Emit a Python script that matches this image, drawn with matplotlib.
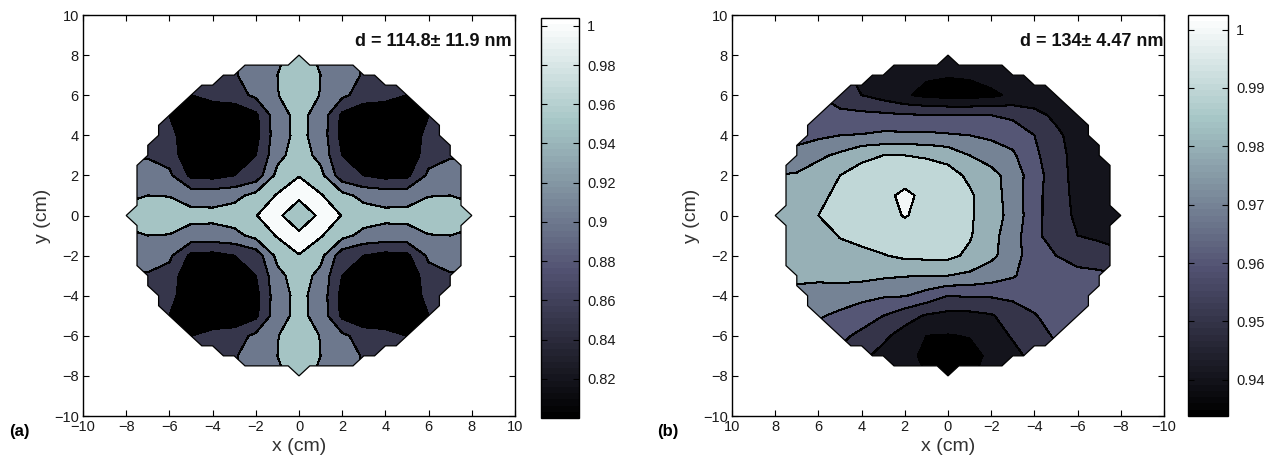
import numpy as np
import matplotlib
matplotlib.use('Agg')
import matplotlib.pyplot as plt
from matplotlib.colors import Normalize
from matplotlib.cm import ScalarMappable
from matplotlib.patches import PathPatch

plt.rcParams['font.family'] = ['Liberation Sans', 'DejaVu Sans']

N = np.nan

# ---------------- panel (a) data : 1 cm grid, x = -8..8, y = 8..-8 ----------------
a_x = list(range(-8, 9))
a_y = list(range(8, -9, -1))
a_values = [
    [N, N, N, N, N, 0.895, 0.925, 0.945, 0.960, 0.945, 0.925, 0.895, N, N, N, N, N],
    [N, N, N, 0.870, 0.885, 0.895, 0.925, 0.950, 0.975, 0.950, 0.925, 0.895, 0.885, 0.870, N, N, N],
    [N, N, 0.845, 0.850, 0.870, 0.880, 0.910, 0.948, 0.980, 0.948, 0.910, 0.880, 0.870, 0.850, 0.845, N, N],
    [N, 0.870, 0.850, 0.815, 0.810, 0.810, 0.840, 0.930, 0.965, 0.930, 0.840, 0.810, 0.810, 0.815, 0.850, 0.870, N],
    [N, 0.885, 0.870, 0.810, 0.800, 0.805, 0.835, 0.930, 0.963, 0.930, 0.835, 0.805, 0.800, 0.810, 0.870, 0.885, N],
    [0.895, 0.895, 0.880, 0.810, 0.805, 0.815, 0.850, 0.935, 0.975, 0.935, 0.850, 0.815, 0.805, 0.810, 0.880, 0.895, 0.895],
    [0.925, 0.925, 0.910, 0.840, 0.835, 0.850, 0.870, 0.965, 0.9998, 0.965, 0.870, 0.850, 0.835, 0.840, 0.910, 0.925, 0.925],
    [0.945, 0.950, 0.948, 0.930, 0.930, 0.935, 0.965, 1.004, 1.003, 1.004, 0.965, 0.935, 0.930, 0.930, 0.948, 0.950, 0.945],
    [0.960, 0.975, 0.980, 0.965, 0.963, 0.975, 0.9998, 1.003, 0.990, 1.003, 0.9998, 0.975, 0.963, 0.965, 0.980, 0.975, 0.960],
    [0.945, 0.950, 0.948, 0.930, 0.930, 0.935, 0.965, 1.004, 1.003, 1.004, 0.965, 0.935, 0.930, 0.930, 0.948, 0.950, 0.945],
    [0.925, 0.925, 0.910, 0.840, 0.835, 0.850, 0.870, 0.965, 0.9998, 0.965, 0.870, 0.850, 0.835, 0.840, 0.910, 0.925, 0.925],
    [0.895, 0.895, 0.880, 0.810, 0.805, 0.815, 0.850, 0.935, 0.975, 0.935, 0.850, 0.815, 0.805, 0.810, 0.880, 0.895, 0.895],
    [N, 0.885, 0.870, 0.810, 0.800, 0.805, 0.835, 0.930, 0.963, 0.930, 0.835, 0.805, 0.800, 0.810, 0.870, 0.885, N],
    [N, 0.870, 0.850, 0.815, 0.810, 0.810, 0.840, 0.930, 0.965, 0.930, 0.840, 0.810, 0.810, 0.815, 0.850, 0.870, N],
    [N, N, 0.845, 0.850, 0.870, 0.880, 0.910, 0.948, 0.980, 0.948, 0.910, 0.880, 0.870, 0.850, 0.845, N, N],
    [N, N, N, 0.870, 0.885, 0.895, 0.925, 0.950, 0.975, 0.950, 0.925, 0.895, 0.885, 0.870, N, N, N],
    [N, N, N, N, N, 0.895, 0.925, 0.945, 0.960, 0.945, 0.925, 0.895, N, N, N, N, N],
]
a_levels = [0.79, 0.85, 0.90, 0.95, 1.00, 1.01]
a_crange = (0.80, 1.004)
a_cticks = [0.82, 0.84, 0.86, 0.88, 0.90, 0.92, 0.94, 0.96, 0.98, 1.00]
a_clabels = ['0.82', '0.84', '0.86', '0.88', '0.9', '0.92', '0.94', '0.96', '0.98', '1']
a_note = 'd = 114.8\u00b1 11.9 nm'

# ---------------- panel (b) data : 1 cm grid, x = 8..-8 (reversed axis), y = 8..-8 ----------------
b_x = list(range(8, -9, -1))
b_y = list(range(8, -9, -1))
b_values = [
    [N, N, N, N, N, 0.948, 0.946, 0.944, 0.943, 0.944, 0.946, 0.947, N, N, N, N, N],
    [N, N, N, 0.952, 0.948, 0.946, 0.944, 0.941, 0.9405, 0.941, 0.944, 0.946, 0.946, 0.946, N, N, N],
    [N, N, 0.960, 0.956, 0.950, 0.946, 0.941, 0.938, 0.937, 0.937, 0.938, 0.942, 0.944, 0.945, 0.945, N, N],
    [N, 0.964, 0.962, 0.962, 0.9625, 0.962, 0.961, 0.9605, 0.960, 0.960, 0.960, 0.958, 0.953, 0.948, 0.945, 0.944, N],
    [N, 0.966, 0.968, 0.970, 0.9705, 0.972, 0.972, 0.972, 0.971, 0.970, 0.968, 0.966, 0.960, 0.952, 0.946, 0.944, N],
    [0.972, 0.974, 0.978, 0.982, 0.9885, 0.990, 0.990, 0.989, 0.9865, 0.980, 0.976, 0.9715, 0.962, 0.954, 0.946, 0.944, 0.944],
    [0.980, 0.981, 0.985, 0.990, 0.9925, 0.995, 0.995, 0.995, 0.994, 0.988, 0.983, 0.976, 0.964, 0.955, 0.946, 0.944, 0.944],
    [0.984, 0.985, 0.988, 0.992, 0.995, 0.997, 1.0025, 0.997, 0.997, 0.9915, 0.984, 0.976, 0.963, 0.955, 0.947, 0.944, 0.944],
    [0.984, 0.986, 0.990, 0.993, 0.9955, 0.997, 1.0005, 0.9975, 0.997, 0.9915, 0.984, 0.977, 0.963, 0.955, 0.948, 0.945, 0.944],
    [0.982, 0.983, 0.986, 0.9905, 0.993, 0.995, 0.996, 0.996, 0.995, 0.991, 0.983, 0.975, 0.962, 0.956, 0.950, 0.948, 0.946],
    [0.982, 0.983, 0.985, 0.987, 0.9875, 0.9895, 0.992, 0.9925, 0.9925, 0.988, 0.982, 0.975, 0.963, 0.960, 0.956, 0.955, 0.952],
    [0.981, 0.9815, 0.982, 0.983, 0.983, 0.9815, 0.9805, 0.980, 0.980, 0.978, 0.975, 0.971, 0.965, 0.964, 0.963, 0.962, 0.960],
    [N, 0.978, 0.976, 0.975, 0.973, 0.971, 0.9705, 0.966, 0.960, 0.961, 0.961, 0.962, 0.963, 0.964, 0.965, 0.964, N],
    [N, 0.973, 0.971, 0.968, 0.964, 0.960, 0.954, 0.949, 0.947, 0.947, 0.949, 0.955, 0.9595, 0.963, 0.965, 0.965, N],
    [N, N, 0.966, 0.962, 0.958, 0.952, 0.946, 0.940, 0.9395, 0.9405, 0.945, 0.951, 0.9565, 0.961, 0.963, N, N],
    [N, N, N, 0.958, 0.952, 0.947, 0.943, 0.938, 0.935, 0.937, 0.942, 0.947, 0.953, 0.958, N, N, N],
    [N, N, N, N, N, 0.948, 0.944, 0.940, 0.937, 0.939, 0.943, 0.948, N, N, N, N, N],
]
b_levels = [0.93, 0.94, 0.95, 0.96, 0.97, 0.98, 0.99, 1.00, 1.01]
b_crange = (0.9338, 1.0025)
b_cticks = [0.94, 0.95, 0.96, 0.97, 0.98, 0.99, 1.00]
b_clabels = ['0.94', '0.95', '0.96', '0.97', '0.98', '0.99', '1']
b_note = 'd = 134\u00b1 4.47 nm'

axis_ticks = list(range(-10, 11, 2))
wafer_radius = 8.0
wafer_step = 0.5

W, H = 1278, 465
fig = plt.figure(figsize=(W / 100, H / 100), dpi=100)


def box(x0, y0, x1, y1):
    return [x0 / W, 1 - y1 / H, (x1 - x0) / W, (y1 - y0) / H]


TICK_FS = 10.5
TEXT_C = '#1a1a1a'


def wafer_outline(ax):
    g = np.arange(-wafer_radius, wafer_radius + 1e-9, wafer_step)
    gx, gy = np.meshgrid(g, g)
    ones = np.ma.masked_where(gx ** 2 + gy ** 2 > wafer_radius ** 2 + 1e-9, np.ones_like(gx))
    oc = ax.contourf(gx, gy, ones, levels=[0, 2], corner_mask=True)
    path = oc.get_paths()[0]
    oc.remove()
    return path


def panel(ax_rect, cax_rect, xs, ys, vals, levels, crange, cticks, clabels, xlim, note, note_x):
    ax = fig.add_axes(ax_rect)
    cax = fig.add_axes(cax_rect)
    outline = wafer_outline(ax)
    X, Y = np.meshgrid(xs, ys)
    Z = np.ma.masked_invalid(np.array(vals, dtype=float))
    cmap = plt.get_cmap('bone')
    norm = Normalize(vmin=crange[0], vmax=crange[1])
    fill_colors = [cmap(norm(max(l, crange[0]))) for l in levels[:-1]]
    cs = ax.contourf(X, Y, Z, levels=levels, colors=fill_colors, corner_mask=True)
    cs.set_edgecolor('k')
    cs.set_linewidth(0.75)
    cs.set_clip_path(outline, ax.transData)
    ax.add_patch(PathPatch(outline, facecolor='none', edgecolor='k', lw=0.9, zorder=3))
    ax.set_xlim(*xlim)
    ax.set_ylim(-10, 10)
    ax.set_xticks(axis_ticks)
    ax.set_yticks(axis_ticks)
    ax.tick_params(direction='in', top=True, right=True, length=4, width=0.8,
                   labelsize=TICK_FS, labelcolor=TEXT_C, pad=3)
    for s in ax.spines.values():
        s.set_linewidth(1.0)
    ax.set_xlabel('x (cm)', fontsize=14, color='#333333', labelpad=3)
    ax.set_ylabel('y (cm)', fontsize=14, color='#333333', labelpad=2)
    ax.text(note_x, 0.935, note, transform=ax.transAxes, ha='right', va='center',
            fontsize=13, fontweight='bold', color='#111111')

    sm = ScalarMappable(norm=norm, cmap=plt.get_cmap('bone', 64))
    cb = fig.colorbar(sm, cax=cax, ticks=cticks)
    cb.set_ticklabels(clabels)
    cax.tick_params(direction='in', left=True, right=True, length=4, width=0.8,
                    labelsize=TICK_FS, labelcolor=TEXT_C, pad=6)
    cb.outline.set_linewidth(1.0)
    return ax


panel(box(83, 15, 515, 416), box(541, 18, 579, 418), a_x, a_y, a_values, a_levels,
      a_crange, a_cticks, a_clabels, (-10, 10), a_note, 0.993)
panel(box(732, 15, 1164, 416), box(1188, 15, 1228, 416), b_x, b_y, b_values, b_levels,
      b_crange, b_cticks, b_clabels, (10, -10), b_note, 0.998)

fig.text(19 / W, 1 - 431 / H, '(a)', fontsize=12, fontweight='bold', ha='center', va='center')
fig.text(668 / W, 1 - 431 / H, '(b)', fontsize=12, fontweight='bold', ha='center', va='center')

fig.savefig('out.png', dpi=100)
